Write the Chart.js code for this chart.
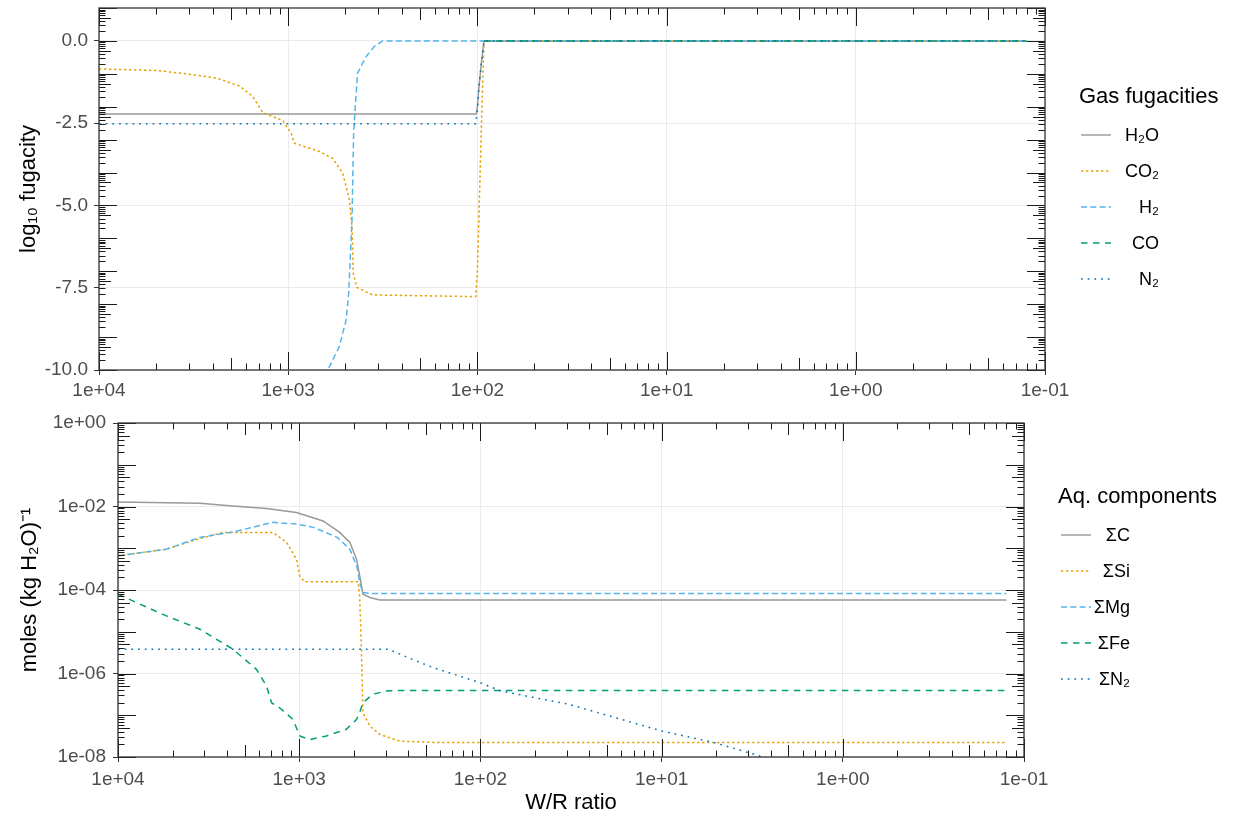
<!DOCTYPE html>
<html>
<head>
<meta charset="utf-8">
<script src="https://cdn.jsdelivr.net/npm/chart.js@4.4.1/dist/chart.umd.min.js"></script>
<style>
body{margin:0;background:#fff;}
#wrap{position:relative;width:1236px;height:820px;}
canvas{position:absolute;left:0;}
#topChart{top:0;}
#bottomChart{top:400px;}
</style>
</head>
<body>
<div id="wrap">
<canvas id="topChart" width="1236" height="400"></canvas>
<canvas id="bottomChart" width="1236" height="420"></canvas>
</div>
<script>
// W/R axis (shared)
var wrBreaks=[1e4,1e3,1e2,1e1,1e0,1e-1];
var wrLabels=['1e+04','1e+03','1e+02','1e+01','1e+00','1e-01'];

// top panel : log10 fugacity
var fugBreaks=[-10,-7.5,-5,-2.5,0];
var fugLabels=['-10.0','-7.5','-5.0','-2.5','0.0'];
var gasNames=['H₂O','CO₂','H₂','CO','N₂'];

var h2oWR=[10000,101.4,100,98.8,97.3,95.3,92.3,0.125];
var h2oLog=[-2.22,-2.22,-2.0,-1.6,-1.19,-0.68,0,0];
var co2WR=[10000,4966,3451,2399,1807,1538,1361,1067,964,927,684,582,515,475,460,453,434,358,102,100,98.2,95.5,92.3,0.125];
var co2Log=[-0.85,-0.9,-1.0,-1.13,-1.37,-1.69,-2.18,-2.42,-2.81,-3.11,-3.36,-3.57,-4.02,-4.83,-5.64,-7.06,-7.49,-7.72,-7.77,-6.96,-5.44,-2.8,0,0];
var h2WR=[708,618,537,494,479,460,451,442,430,388,351,317,0.125];
var h2Log=[-10.7,-10,-9.29,-8.48,-7.67,-5.44,-2.81,-2.0,-0.98,-0.48,-0.17,0,0];
var coWR=[92.3,0.125];
var coLog=[0,0];
var n2gWR=[10000,102,100,98.8,97.3,95.3,92.3,0.125];
var n2gLog=[-2.52,-2.52,-2.1,-1.6,-1.19,-0.68,0,0];

// bottom panel : moles (kg H2O)^-1
var molBreaks=[1,1e-2,1e-4,1e-6,1e-8];
var molLabels=['1e+00','1e-02','1e-04','1e-06','1e-08'];
var aqNames=['ΣC','ΣSi','ΣMg','ΣFe','ΣN₂'];

var cWR=[10000,3532,2239,1514,1035,738,598,525,483,463,445,407,360,0.125];
var cMol=[1.29e-2,1.2e-2,1.02e-2,8.9e-3,7.2e-3,4.5e-3,2.4e-3,1.38e-3,5.5e-4,2.14e-4,7.9e-5,6.6e-5,5.75e-5,5.75e-5];
var siWR=[10000,5410,3532,2630,1396,1175,1035,993,933,473,464,454,445,407,360,279,182,0.125];
var siMol=[6.6e-4,9.5e-4,1.7e-3,2.4e-3,2.4e-3,1.38e-3,5.5e-4,2.14e-4,1.58e-4,1.58e-4,7.1e-5,4.5e-6,1.15e-7,5.5e-8,3.5e-8,2.4e-8,2.24e-8,2.24e-8];
var mgWR=[10000,5410,3532,2317,1396,1035,832,617,525,479,464,445,407,0.125];
var mgMol=[6.6e-4,9.5e-4,1.82e-3,2.45e-3,4.17e-3,3.8e-3,3.16e-3,1.82e-3,9.5e-4,3.47e-4,1.51e-4,8.7e-5,8.3e-5,8.3e-5];
var feWR=[10000,5410,3532,2317,1722,1514,1422,1282,1081,993,875,708,550,483,464,445,392,331,282,0.125];
var feMol=[7.9e-5,2.4e-5,1.15e-5,3.8e-6,1.26e-6,5e-7,2e-7,1.51e-7,7.9e-8,3.2e-8,2.6e-8,3.2e-8,4.6e-8,7.9e-8,1.15e-7,2e-7,3.2e-7,3.8e-7,3.9e-7,3.9e-7];
var n2WR=[10000,320,251,182,100,77,32,10,5.1,2.75,1.5];
var n2Mol=[3.8e-6,3.8e-6,2.4e-6,1.38e-6,6e-7,3.8e-7,1.8e-7,4.2e-8,2.2e-8,1e-8,5e-9];

// line looks, same order in both panels
var colors=['#999999','#E69F00','#56B4E9','#009E73','#0072B2'];
var dashes=[[],[2.3,2.7],[6,3.3],[6.5,5.5],[1.7,5]];

Chart.defaults.font.family="'Liberation Sans', Arial, sans-serif";
Chart.defaults.animation=false;

function pts(xs,ys){
    return xs.map(function(x,i){ return {x:x,y:ys[i]}; });
}
// later series on top, like ggplot
function ds(label,i,data){
    return {label:label,data:data,borderColor:colors[i],backgroundColor:colors[i],order:4-i,
        borderDash:dashes[i],borderWidth:1.5,pointRadius:0,tension:0,fill:false};
}
// keep the plot box where it is, labels may overhang
function noPad(s){
    s.paddingTop=0;s.paddingBottom=0;s.paddingLeft=0;s.paddingRight=0;
}

// log ticks on all four sides (the x ones sit where ggplot put them on the reversed axis)
var logTicks={
    id:'logTicks',
    afterDatasetsDraw:function(chart){
        var ctx=chart.ctx,a=chart.chartArea,xs=chart.scales.x,ys=chart.scales.y;
        function len(k){ return (k==1||k==10)?18:(k==5?12:6.5); }
        ctx.save();
        ctx.strokeStyle='#1a1a1a';
        ctx.lineWidth=1;
        ctx.beginPath();
        var d,k,n,p,L;
        for(d=4;d>=0;d--){
            for(k=1;k<=10;k++){
                p=Math.round(xs.getPixelForValue(Math.pow(10,d)/k))+0.5;
                L=len(k);
                ctx.moveTo(p,a.bottom);ctx.lineTo(p,a.bottom-L);
                ctx.moveTo(p,a.top);ctx.lineTo(p,a.top+L);
            }
        }
        for(n=-10;n<=0;n++){
            for(k=1;k<=10;k++){
                var v;
                if(ys.type==='logarithmic'){
                    if(n<-8) continue;
                    if(n==0 && k>1) continue;
                    v=Math.pow(10,n)*k;
                }else{
                    v=n+Math.log10(k);
                    if(v>1) continue;
                }
                p=Math.round(ys.getPixelForValue(v))+0.5;
                L=len(k);
                ctx.moveTo(a.left,p);ctx.lineTo(a.left+L,p);
                ctx.moveTo(a.right,p);ctx.lineTo(a.right-L,p);
            }
        }
        ctx.stroke();
        ctx.lineWidth=1.3;
        ctx.strokeStyle='#333333';
        ctx.strokeRect(a.left,a.top,a.right-a.left,a.bottom-a.top);
        ctx.restore();
    }
};

// legend drawn at the side, text right aligned like the original
var sideLegend={
    id:'sideLegend',
    afterDraw:function(chart,args,o){
        var ctx=chart.ctx;
        ctx.save();
        ctx.fillStyle='#000';
        ctx.font="22px 'Liberation Sans', Arial, sans-serif";
        ctx.textBaseline='middle';
        ctx.textAlign='left';
        ctx.fillText(o.title,o.titleX,o.titleY);
        ctx.font="18px 'Liberation Sans', Arial, sans-serif";
        ctx.textAlign='right';
        chart.data.datasets.forEach(function(d,i){
            var y=o.rowY+i*o.step;
            ctx.strokeStyle=d.borderColor;
            ctx.lineWidth=1.4;
            ctx.setLineDash(d.borderDash);
            ctx.beginPath();
            ctx.moveTo(o.lineL,y);ctx.lineTo(o.lineR,y);
            ctx.stroke();
            ctx.setLineDash([]);
            ctx.fillText(d.label,o.textR,y+1);
        });
        ctx.restore();
    }
};

function xAxis(h,pad){
    return {
        type:'logarithmic',reverse:true,min:0.1,max:1e4,
        afterBuildTicks:function(s){ s.ticks=wrBreaks.map(function(v){return {value:v};}); },
        afterFit:function(s){ s.height=h; noPad(s); },
        ticks:{autoSkip:false,maxRotation:0,padding:pad,color:'#4d4d4d',font:{size:19},
            callback:function(v){ return wrLabels[wrBreaks.indexOf(v)]; }},
        grid:{color:'#ebebeb',tickColor:'#333333',tickLength:5},
        border:{display:false}
    };
}

new Chart(document.getElementById('topChart'),{
    type:'line',
    data:{datasets:[
        ds(gasNames[0],0,pts(h2oWR,h2oLog)),
        ds(gasNames[1],1,pts(co2WR,co2Log)),
        ds(gasNames[2],2,pts(h2WR,h2Log)),
        ds(gasNames[3],3,pts(coWR,coLog)),
        ds(gasNames[4],4,pts(n2gWR,n2gLog))
    ]},
    options:{
        responsive:false,
        layout:{padding:{left:0,top:8,right:191,bottom:0}},
        scales:{
            x:xAxis(30,4),
            y:{
                type:'linear',min:-10,max:1,
                afterBuildTicks:function(s){ s.ticks=fugBreaks.map(function(v){return {value:v};}); },
                afterFit:function(s){ s.width=99; noPad(s); },
                ticks:{padding:6,color:'#4d4d4d',font:{size:19},
                    callback:function(v){ return fugLabels[fugBreaks.indexOf(v)]; }},
                grid:{color:'#ebebeb',tickColor:'#333333',tickLength:5},
                border:{display:false},
                title:{display:true,text:'log₁₀ fugacity',color:'#000',font:{size:22},padding:{top:16,bottom:0}}
            }
        },
        plugins:{
            legend:{display:false},
            tooltip:{enabled:false},
            sideLegend:{title:'Gas fugacities',titleX:1079,titleY:97,rowY:135,step:36,lineL:1081,lineR:1111,textR:1159}
        }
    },
    plugins:[logTicks,sideLegend]
});

new Chart(document.getElementById('bottomChart'),{
    type:'line',
    data:{datasets:[
        ds(aqNames[0],0,pts(cWR,cMol)),
        ds(aqNames[1],1,pts(siWR,siMol)),
        ds(aqNames[2],2,pts(mgWR,mgMol)),
        ds(aqNames[3],3,pts(feWR,feMol)),
        ds(aqNames[4],4,pts(n2WR,n2Mol))
    ]},
    options:{
        responsive:false,
        layout:{padding:{left:0,top:23,right:212,bottom:0}},
        scales:{
            x:Object.assign(xAxis(63,6),{
                title:{display:true,text:'W/R ratio',color:'#000',font:{size:22},padding:{top:0,bottom:4}}
            }),
            y:{
                type:'logarithmic',min:1e-8,max:1,
                afterBuildTicks:function(s){ s.ticks=molBreaks.map(function(v){return {value:v};}); },
                afterFit:function(s){ s.width=118; noPad(s); },
                ticks:{padding:7,color:'#4d4d4d',font:{size:19},
                    callback:function(v){ return molLabels[molBreaks.indexOf(v)]; }},
                grid:{color:'#ebebeb',tickColor:'#333333',tickLength:5},
                border:{display:false},
                title:{display:true,text:'moles (kg H₂O)⁻¹',color:'#000',font:{size:22},padding:{top:17,bottom:0}}
            }
        },
        plugins:{
            legend:{display:false},
            tooltip:{enabled:false},
            sideLegend:{title:'Aq. components',titleX:1058,titleY:97,rowY:135,step:36,lineL:1061,lineR:1091,textR:1130}
        }
    },
    plugins:[logTicks,sideLegend]
});
</script>
</body>
</html>
